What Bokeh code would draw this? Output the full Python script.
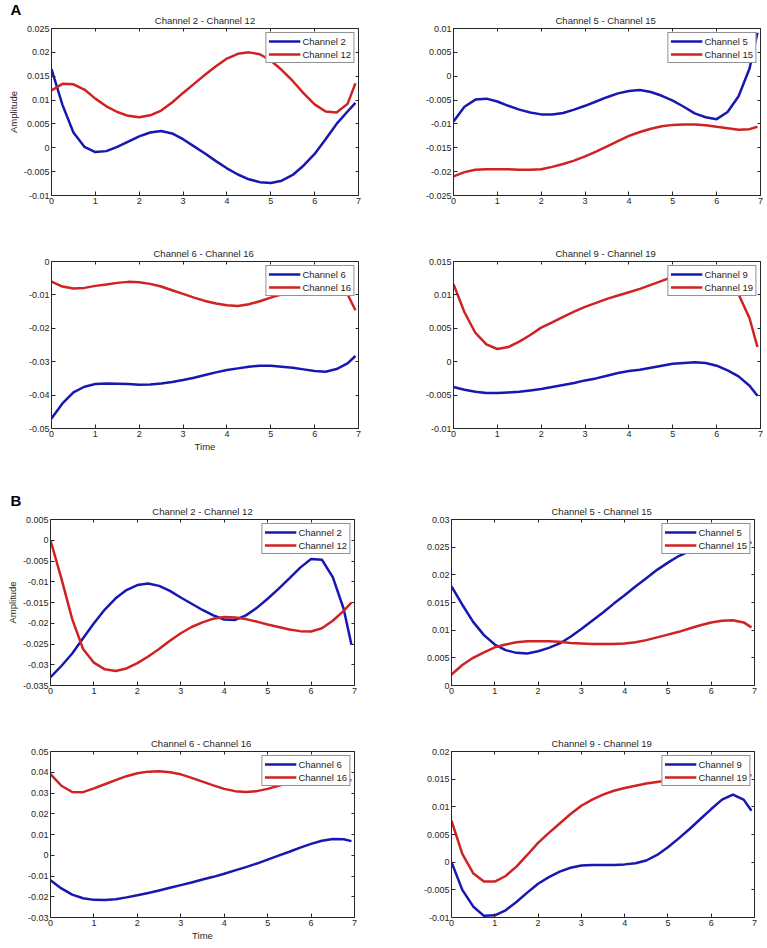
from bokeh.plotting import figure
from bokeh.layouts import column, row
from bokeh.models import LinearAxis, FixedTicker, Range1d, Legend, LegendItem, Title
from bokeh.embed import file_html
from bokeh.resources import INLINE

# ---------------- data ----------------
time = [0, 0.25, 0.5, 0.75, 1.0, 1.25, 1.5, 1.75, 2.0, 2.25, 2.5, 2.75, 3.0, 3.25, 3.5,
        3.75, 4.0, 4.25, 4.5, 4.75, 5.0, 5.25, 5.5, 5.75, 6.0, 6.25, 6.5, 6.75, 6.93]

a1_ch2 = [0.0165, 0.0090, 0.0032, 0.0002, -0.0009, -0.0007, 0.0002, 0.0013, 0.0024, 0.0032, 0.0035, 0.0030, 0.0018, 0.0003, -0.0012, -0.0028, -0.0043, -0.0056, -0.0066, -0.0072, -0.0074, -0.0069, -0.0057, -0.0037, -0.0013, 0.0018, 0.0050, 0.0076, 0.0094]
a1_ch12 = [0.0120, 0.0134, 0.0133, 0.0122, 0.0103, 0.0087, 0.0075, 0.0067, 0.0064, 0.0068, 0.0078, 0.0095, 0.0115, 0.0134, 0.0153, 0.0171, 0.0187, 0.0197, 0.0200, 0.0196, 0.0183, 0.0163, 0.0140, 0.0114, 0.0091, 0.0076, 0.0074, 0.0092, 0.0135]
a2_ch5 = [-0.0095, -0.0064, -0.0049, -0.0047, -0.0053, -0.0062, -0.0070, -0.0076, -0.0080, -0.0080, -0.0077, -0.0070, -0.0062, -0.0053, -0.0044, -0.0036, -0.0031, -0.0029, -0.0033, -0.0041, -0.0051, -0.0064, -0.0078, -0.0086, -0.0090, -0.0075, -0.0042, 0.0016, 0.0091]
a2_ch15 = [-0.0210, -0.0201, -0.0196, -0.0195, -0.0195, -0.0195, -0.0196, -0.0196, -0.0195, -0.0190, -0.0184, -0.0177, -0.0168, -0.0158, -0.0147, -0.0136, -0.0125, -0.0117, -0.0110, -0.0105, -0.0102, -0.0101, -0.0101, -0.0103, -0.0106, -0.0109, -0.0112, -0.0111, -0.0106]
a3_ch6 = [-0.0470, -0.0425, -0.0392, -0.0375, -0.0367, -0.0365, -0.0366, -0.0367, -0.0369, -0.0368, -0.0365, -0.0361, -0.0355, -0.0348, -0.0340, -0.0332, -0.0325, -0.0320, -0.0315, -0.0312, -0.0312, -0.0315, -0.0318, -0.0323, -0.0328, -0.0330, -0.0322, -0.0305, -0.0283]
a3_ch16 = [-0.0060, -0.0075, -0.0081, -0.0079, -0.0073, -0.0069, -0.0064, -0.0061, -0.0062, -0.0067, -0.0075, -0.0086, -0.0097, -0.0108, -0.0118, -0.0126, -0.0131, -0.0133, -0.0128, -0.0119, -0.0108, -0.0098, -0.0088, -0.0080, -0.0075, -0.0073, -0.0078, -0.0098, -0.0146]
a4_ch9 = [-0.0038, -0.0042, -0.0045, -0.0047, -0.0047, -0.0046, -0.0045, -0.0043, -0.0041, -0.0038, -0.0035, -0.0032, -0.0028, -0.0025, -0.0021, -0.0017, -0.0014, -0.0012, -0.0009, -0.0006, -0.0003, -0.0002, -0.0001, -0.0002, -0.0006, -0.0013, -0.0022, -0.0036, -0.0051]
a4_ch19 = [0.0116, 0.0074, 0.0043, 0.0026, 0.0019, 0.0022, 0.0030, 0.0040, 0.0051, 0.0059, 0.0067, 0.0075, 0.0082, 0.0088, 0.0094, 0.0099, 0.0104, 0.0109, 0.0115, 0.0121, 0.0127, 0.0132, 0.0136, 0.0137, 0.0133, 0.0122, 0.0101, 0.0065, 0.0022]
b1_ch2 = [-0.0330, -0.0303, -0.0273, -0.0236, -0.0200, -0.0167, -0.0140, -0.0120, -0.0108, -0.0104, -0.0110, -0.0122, -0.0138, -0.0153, -0.0168, -0.0181, -0.0191, -0.0192, -0.0181, -0.0163, -0.0141, -0.0117, -0.0092, -0.0066, -0.0045, -0.0047, -0.0089, -0.0165, -0.0252]
b1_ch12 = [0.0000, -0.0092, -0.0190, -0.0262, -0.0295, -0.0311, -0.0315, -0.0309, -0.0296, -0.0280, -0.0262, -0.0242, -0.0224, -0.0209, -0.0198, -0.0189, -0.0185, -0.0186, -0.0190, -0.0196, -0.0203, -0.0209, -0.0215, -0.0219, -0.0220, -0.0212, -0.0194, -0.0170, -0.0150]
b2_ch5 = [0.0179, 0.0146, 0.0115, 0.0091, 0.0074, 0.0064, 0.0059, 0.0058, 0.0062, 0.0068, 0.0076, 0.0088, 0.0102, 0.0117, 0.0132, 0.0148, 0.0163, 0.0179, 0.0194, 0.0209, 0.0222, 0.0234, 0.0243, 0.0250, 0.0255, 0.0258, 0.0259, 0.0259, 0.0258]
b2_ch15 = [0.0020, 0.0037, 0.0050, 0.0060, 0.0069, 0.0074, 0.0078, 0.0080, 0.0080, 0.0080, 0.0079, 0.0077, 0.0076, 0.0075, 0.0075, 0.0075, 0.0076, 0.0078, 0.0082, 0.0087, 0.0092, 0.0097, 0.0103, 0.0109, 0.0114, 0.0117, 0.0118, 0.0114, 0.0105]
b3_ch6 = [-0.0121, -0.0160, -0.0190, -0.0207, -0.0215, -0.0216, -0.0212, -0.0203, -0.0193, -0.0182, -0.0170, -0.0157, -0.0144, -0.0131, -0.0117, -0.0104, -0.0089, -0.0073, -0.0057, -0.0040, -0.0021, -0.0002, 0.0017, 0.0037, 0.0055, 0.0070, 0.0078, 0.0077, 0.0068]
b3_ch16 = [0.0391, 0.0335, 0.0305, 0.0304, 0.0322, 0.0342, 0.0362, 0.0381, 0.0395, 0.0403, 0.0405, 0.0400, 0.0390, 0.0373, 0.0355, 0.0337, 0.0320, 0.0309, 0.0305, 0.0309, 0.0320, 0.0335, 0.0350, 0.0363, 0.0372, 0.0378, 0.0378, 0.0370, 0.0360]
b4_ch9 = [0.0000, -0.0050, -0.0080, -0.0097, -0.0096, -0.0087, -0.0072, -0.0055, -0.0039, -0.0027, -0.0017, -0.0010, -0.0006, -0.0005, -0.0005, -0.0005, -0.0004, -0.0002, 0.0003, 0.0013, 0.0027, 0.0043, 0.0060, 0.0078, 0.0096, 0.0113, 0.0122, 0.0113, 0.0093]
b4_ch19 = [0.0075, 0.0015, -0.0020, -0.0035, -0.0035, -0.0025, -0.0008, 0.0013, 0.0035, 0.0053, 0.0070, 0.0087, 0.0102, 0.0113, 0.0122, 0.0129, 0.0134, 0.0138, 0.0142, 0.0145, 0.0148, 0.0150, 0.0152, 0.0154, 0.0155, 0.0156, 0.0156, 0.0157, 0.0157]

x_ticks = [0, 1, 2, 3, 4, 5, 6, 7]
x_tick_labels = ["0", "1", "2", "3", "4", "5", "6", "7"]

a1_yticks = [-0.01, -0.005, 0, 0.005, 0.01, 0.015, 0.02, 0.025]
a1_ylabels = ["-0.01", "-0.005", "0", "0.005", "0.01", "0.015", "0.02", "0.025"]
a2_yticks = [-0.025, -0.02, -0.015, -0.01, -0.005, 0, 0.005, 0.01]
a2_ylabels = ["-0.025", "-0.02", "-0.015", "-0.01", "-0.005", "0", "0.005", "0.01"]
a3_yticks = [-0.05, -0.04, -0.03, -0.02, -0.01, 0]
a3_ylabels = ["-0.05", "-0.04", "-0.03", "-0.02", "-0.01", "0"]
a4_yticks = [-0.01, -0.005, 0, 0.005, 0.01, 0.015]
a4_ylabels = ["-0.01", "-0.005", "0", "0.005", "0.01", "0.015"]
b1_yticks = [-0.035, -0.03, -0.025, -0.02, -0.015, -0.01, -0.005, 0, 0.005]
b1_ylabels = ["-0.035", "-0.03", "-0.025", "-0.02", "-0.015", "-0.01", "-0.005", "0", "0.005"]
b2_yticks = [0, 0.005, 0.01, 0.015, 0.02, 0.025, 0.03]
b2_ylabels = ["0", "0.005", "0.01", "0.015", "0.02", "0.025", "0.03"]
b3_yticks = [-0.03, -0.02, -0.01, 0, 0.01, 0.02, 0.03, 0.04, 0.05]
b3_ylabels = ["-0.03", "-0.02", "-0.01", "0", "0.01", "0.02", "0.03", "0.04", "0.05"]
b4_yticks = [-0.01, -0.005, 0, 0.005, 0.01, 0.015, 0.02]
b4_ylabels = ["-0.01", "-0.005", "0", "0.005", "0.01", "0.015", "0.02"]

titles = ["Channel 2 - Channel 12", "Channel 5  - Channel 15", "Channel 6  - Channel 16", "Channel 9  - Channel 19"]
names = [("Channel 2", "Channel 12"), ("Channel 5", "Channel 15"), ("Channel 6", "Channel 16"), ("Channel 9", "Channel 19")]
panel_letters = ["A", "B"]

# ---------------- style ----------------
FONT = "Liberation Sans"
TXT = "#262626"
BLUE = "#1818b0"
RED = "#d02222"


def style_title(t, size="9.5px", bold=False, align="center", offset=0, standoff=6):
    t.align = align
    t.offset = offset
    t.text_font = FONT
    t.text_font_size = size
    t.text_font_style = "bold" if bold else "normal"
    t.text_color = "black" if bold else TXT
    try:
        t.standoff = standoff
    except Exception:
        t.standoff = 0


def make(title, nm, blue, red, yticks, ylabels, fw, fh, bl, br, bt, bb,
         ylabel=None, xlabel=None, letter=None, letter_offset=-41):
    p = figure(frame_width=fw, frame_height=fh, min_border_left=bl, min_border_right=br,
               min_border_top=bt, min_border_bottom=bb, output_backend="svg",
               toolbar_location=None, x_range=Range1d(0, 7),
               y_range=Range1d(yticks[0], yticks[-1]))
    p.grid.visible = False
    p.outline_line_color = TXT
    p.outline_line_width = 1
    p.background_fill_color = "white"
    p.border_fill_color = "white"

    for ax, ticks, labels in ((p.xaxis[0], x_ticks, x_tick_labels), (p.yaxis[0], yticks, ylabels)):
        ax.ticker = FixedTicker(ticks=ticks, minor_ticks=[])
        ax.major_label_overrides = dict(zip(ticks, labels))
        ax.major_label_text_font = FONT
        ax.major_label_text_font_size = "9px"
        ax.major_label_text_color = TXT
        ax.major_tick_in = 4
        ax.major_tick_out = 0
        ax.minor_tick_in = 0
        ax.minor_tick_out = 0
        ax.major_tick_line_color = TXT
        ax.axis_line_color = TXT
        ax.major_label_standoff = 2
        ax.axis_label_text_font = FONT
        ax.axis_label_text_font_size = "9.5px"
        ax.axis_label_text_font_style = "normal"
        ax.axis_label_text_color = TXT
        ax.axis_label_standoff = 2
    if ylabel:
        p.yaxis[0].axis_label = ylabel
    if xlabel:
        p.xaxis[0].axis_label = xlabel
        p.xaxis[0].axis_label_standoff = 1

    for loc, ticks in (("above", x_ticks), ("right", yticks)):
        ax = LinearAxis(ticker=FixedTicker(ticks=ticks, minor_ticks=[]),
                        major_label_overrides={t: "" for t in ticks},
                        major_label_text_font_size="1px", major_label_standoff=0,
                        major_tick_in=3, major_tick_out=0, minor_tick_in=0, minor_tick_out=0,
                        major_tick_line_color=TXT, axis_line_color=None)
        p.add_layout(ax, loc)

    if letter:
        # panel letter as the outer title, channel title just above the frame
        p.title.text = letter
        style_title(p.title, size="15px", bold=True, align="left", offset=letter_offset, standoff=-16)
        ct = Title(text=title)
        style_title(ct)
        p.add_layout(ct, "above")
    else:
        p.title.text = title
        style_title(p.title)

    r1 = p.line(time, blue, line_color=BLUE, line_width=2.5)
    r2 = p.line(time, red, line_color=RED, line_width=2.5)
    leg = Legend(items=[LegendItem(label=nm[0], renderers=[r1]), LegendItem(label=nm[1], renderers=[r2])],
                 location="top_right", label_text_font=FONT, label_text_font_size="9.5px",
                 label_text_color=TXT, glyph_width=32, glyph_height=12, label_height=12,
                 label_standoff=2, spacing=1, padding=2, margin=4,
                 border_line_color=TXT, border_line_width=1,
                 background_fill_color="white", background_fill_alpha=1.0)
    p.add_layout(leg)
    return p


pa1 = make(titles[0], names[0], a1_ch2, a1_ch12, a1_yticks, a1_ylabels, 307, 167, 51, 45, 28, 40,
           ylabel="Amplitude", letter=panel_letters[0], letter_offset=-41)
pa2 = make(titles[1], names[1], a2_ch5, a2_ch15, a2_yticks, a2_ylabels, 307, 167, 50, 4, 28, 40)
pa3 = make(titles[2], names[2], a3_ch6, a3_ch16, a3_yticks, a3_ylabels, 307, 167, 51, 45, 26, 61,
           xlabel="Time")
pa4 = make(titles[3], names[3], a4_ch9, a4_ch19, a4_yticks, a4_ylabels, 307, 167, 50, 4, 26, 61)
pb1 = make(titles[0], names[0], b1_ch2, b1_ch12, b1_yticks, b1_ylabels, 304, 166, 50, 47, 30, 40,
           ylabel="Amplitude", letter=panel_letters[1], letter_offset=-40)
pb2 = make(titles[1], names[1], b2_ch5, b2_ch15, b2_yticks, b2_ylabels, 303, 166, 50, 10, 30, 40)
pb3 = make(titles[2], names[2], b3_ch6, b3_ch16, b3_yticks, b3_ylabels, 304, 166, 50, 47, 26, 26,
           xlabel="Time")
pb4 = make(titles[3], names[3], b4_ch9, b4_ch19, b4_yticks, b4_ylabels, 303, 166, 50, 10, 26, 26)

layout = column(row(pa1, pa2), row(pa3, pa4), row(pb1, pb2), row(pb3, pb4))

open("out.html", "w").write(file_html(layout, INLINE))
